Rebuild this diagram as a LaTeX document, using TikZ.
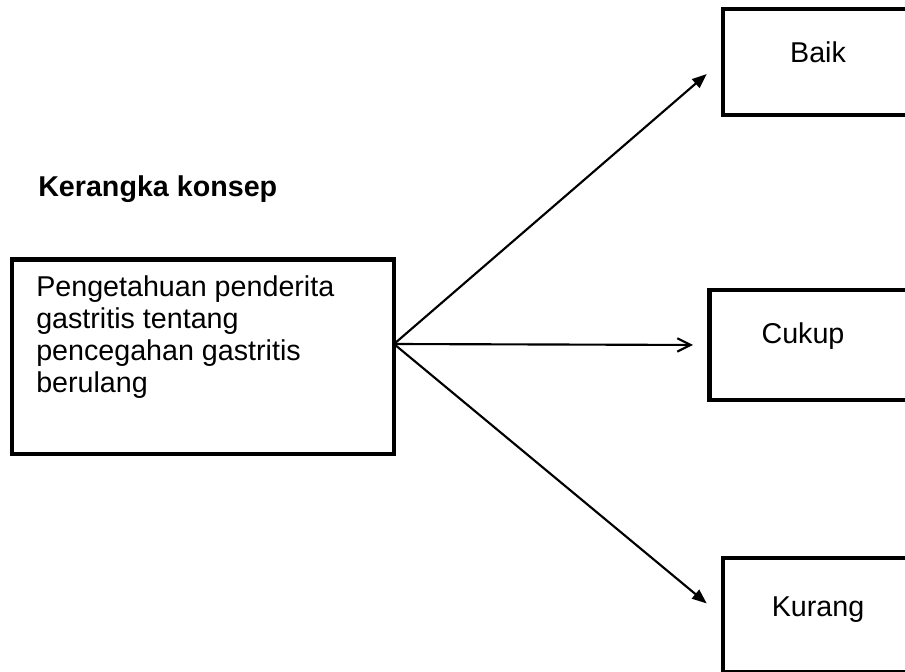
\documentclass[tikz,border=0pt]{standalone}
\usepackage{fontspec}
\setmainfont{Liberation Sans}
\usetikzlibrary{arrows.meta}
\begin{document}
\begin{tikzpicture}[x=0.75pt,y=-0.75pt,
  box/.style={draw=black,line width=3.5pt,fill=none,inner sep=0pt},
  txt/.style={inner sep=0pt,font=\fontsize{21.5}{24}\selectfont},
  conn/.style={line width=1.6pt},
  filledtip/.style={-{Triangle[length=11pt,width=8.5pt]}},
  opentip/.style={-{Straight Barb[length=10pt,width=10pt,line width=1.6pt]}}]
\useasboundingbox (0,0) rectangle (905,671);
\fill[white] (0,0) rectangle (905,671);
\clip (0,0) rectangle (905,671);
% boxes
\node[box,minimum width=286.5pt,minimum height=146pt] (src) at (203,356.5) {};
\node[box,minimum width=180pt,minimum height=79.5pt] (baik) at (843,62) {};
\node[box,minimum width=190pt,minimum height=82.5pt] (cukup) at (836,345) {};
\node[box,minimum width=180pt,minimum height=85.5pt] (kurang) at (843,615) {};
% texts
\node[txt,anchor=base west] (title) at (38,196) {\bfseries Kerangka konsep};
\node[txt,anchor=base west,align=left] (srctxt) at (36,392) {Pengetahuan penderita\\gastritis tentang\\pencegahan gastritis\\berulang};
\node[txt,anchor=base] (baiktxt) at (818,62) {Baik};
\node[txt,anchor=base] (cukuptxt) at (803,343) {Cukup};
\node[txt,anchor=base] (kurangtxt) at (818,616) {Kurang};
% connectors
\coordinate (hub) at (394,344);
\draw[conn,filledtip,shorten >=13.8pt] (hub) -- (baik.west);
\draw[conn,opentip,shorten >=10.5pt] (hub) -- (cukup.west);
\draw[conn,filledtip,shorten >=13.6pt] (hub) -- (kurang.west);
\end{tikzpicture}
\end{document}
